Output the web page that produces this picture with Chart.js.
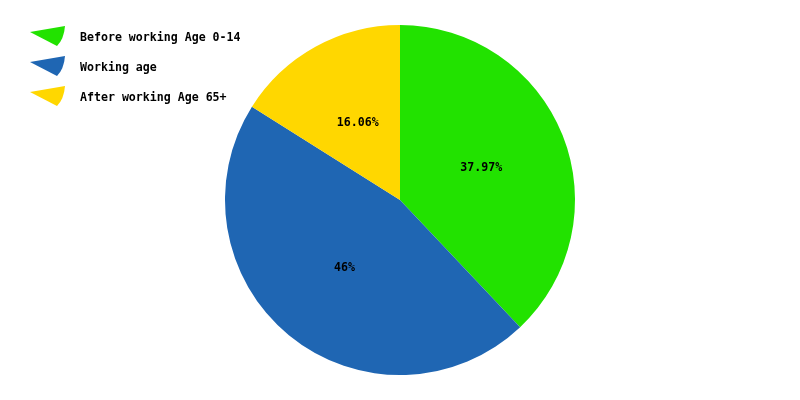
<!DOCTYPE html>
<html>
<head>
<meta charset="utf-8">
<script src="https://cdn.jsdelivr.net/npm/chart.js@4"></script>
<style>
  html, body { margin: 0; padding: 0; background: #fff; }
  canvas { display: block; }
</style>
</head>
<body>
<canvas id="grafico" width="800" height="400"></canvas>
<script>
// dados do gráfico
const rotulos = ['Before working Age 0-14', 'Working age', 'After working Age 65+'];
const valores = [37.97, 46, 16.06];
const cores = ['#22E200', '#1F66B3', '#FFD700'];

const fonte = 'bold 11.6px "DejaVu Sans Mono", monospace';

// legenda desenhada à mão, com ícone em forma de fatia
const legendaPlugin = {
  id: 'legendaFatia',
  afterDraw(chart) {
    const ctx = chart.ctx;
    const ds = chart.data.datasets[0];
    ctx.save();
    chart.data.labels.forEach((label, i) => {
      const y = 37 + i * 30;
      ctx.fillStyle = ds.backgroundColor[i];
      ctx.beginPath();
      ctx.moveTo(30, y - 5);
      ctx.lineTo(65, y - 11);
      ctx.quadraticCurveTo(64, y + 2, 57, y + 9);
      ctx.closePath();
      ctx.fill();
      ctx.fillStyle = '#000';
      ctx.font = fonte;
      ctx.textAlign = 'left';
      ctx.textBaseline = 'middle';
      ctx.fillText(label, 80, y + 1);
    });
    ctx.restore();
  }
};

// porcentagens dentro das fatias
const rotulosPlugin = {
  id: 'rotulosFatia',
  afterDatasetsDraw(chart) {
    const ctx = chart.ctx;
    const meta = chart.getDatasetMeta(0);
    ctx.save();
    ctx.font = fonte;
    ctx.fillStyle = '#000';
    ctx.textAlign = 'center';
    ctx.textBaseline = 'middle';
    meta.data.forEach((arc, i) => {
      const p = arc.tooltipPosition();
      ctx.fillText(chart.data.datasets[0].data[i] + '%', p.x, p.y);
    });
    ctx.restore();
  }
};

new Chart(document.getElementById('grafico').getContext('2d'), {
  type: 'pie',
  data: {
    labels: rotulos,
    datasets: [{
      data: valores,
      backgroundColor: cores,
      borderWidth: 0
    }]
  },
  options: {
    responsive: false,
    animation: false,
    layout: { padding: { top: 25, bottom: 25 } },
    plugins: {
      legend: { display: false },
      tooltip: { enabled: false }
    }
  },
  plugins: [legendaPlugin, rotulosPlugin]
});
</script>
</body>
</html>
